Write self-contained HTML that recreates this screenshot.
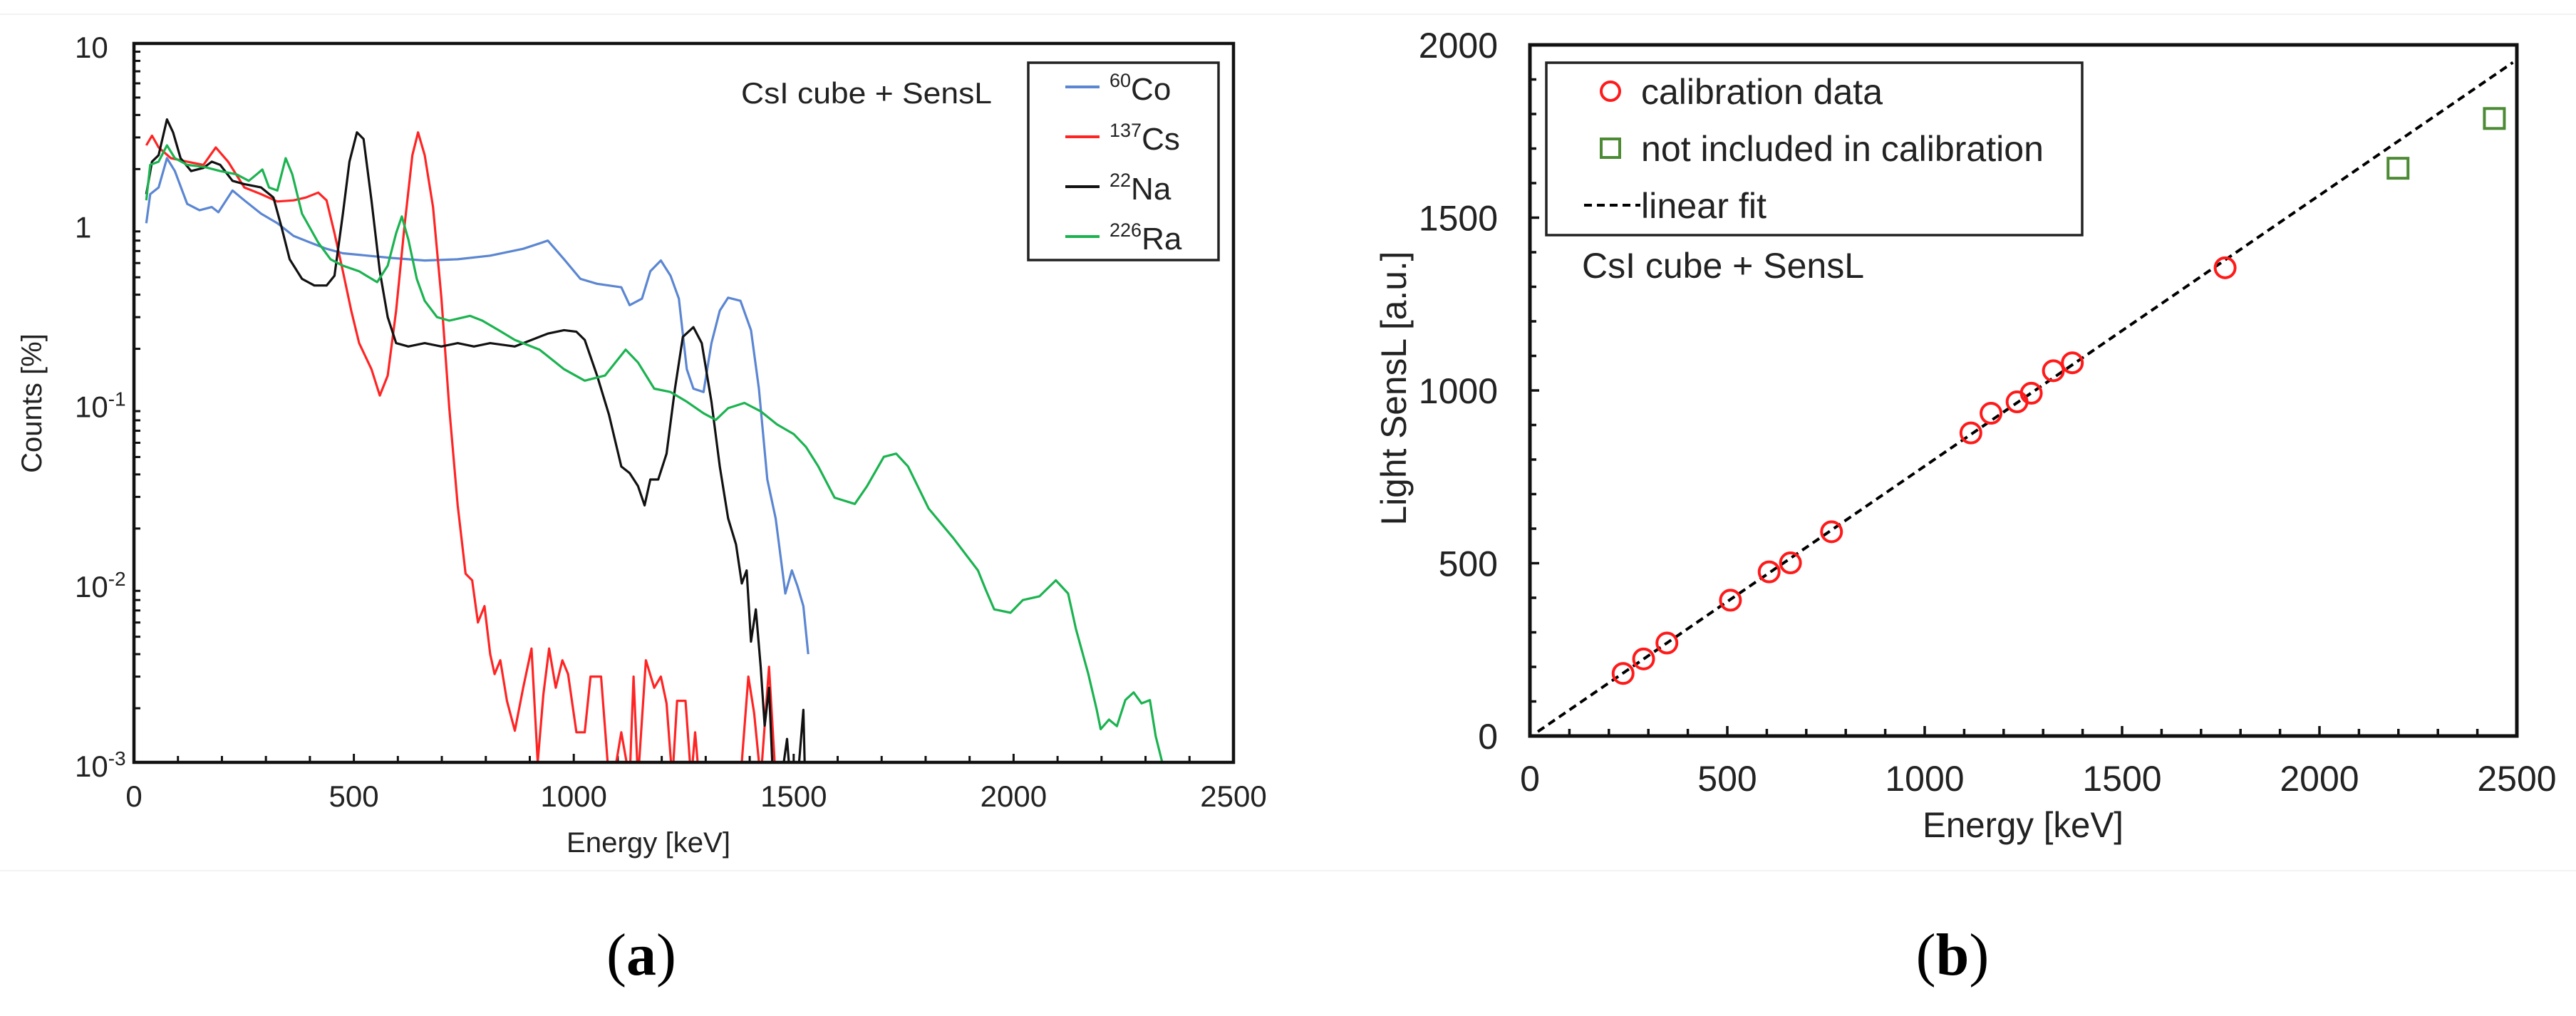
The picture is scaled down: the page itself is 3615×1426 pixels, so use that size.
<!DOCTYPE html>
<html><head><meta charset="utf-8">
<style>
html,body{margin:0;padding:0;background:#fff;}
svg{display:block;font-family:"Liberation Sans",sans-serif;}
</style></head>
<body>
<svg id="fig" width="3615" height="1426" viewBox="0 0 3615 1426" xmlns="http://www.w3.org/2000/svg">
<defs>
<clipPath id="clipA"><rect x="188" y="61" width="1543" height="1009"/></clipPath>
<clipPath id="clipB"><rect x="2147" y="63" width="1385" height="970"/></clipPath>
</defs>
<line x1="0" y1="20" x2="3615" y2="20" stroke="#f3f3f3" stroke-width="2"/>
<line x1="0" y1="1222" x2="3615" y2="1222" stroke="#f3f3f3" stroke-width="2"/>
<g id="panelA"></g>
<g id="panelB"></g>
</svg>
<script>
// ---------- Panel (a) data ----------
const coE = [28,37,56,75,93,121,149,177,192,224,251,289,326,363,401,438,475,531,587,661,736,810,885,941,978,1015,1053,1108,1127,1155,1174,1198,1220,1239,1257,1272,1295,1313,1332,1351,1379,1403,1421,1440,1459,1481,1496,1509,1522,1533];
const coV = [1,1.45,1.58,2.3,1.95,1.28,1.18,1.23,1.15,1.52,1.34,1.13,1.0,0.85,0.78,0.72,0.68,0.66,0.64,0.62,0.63,0.66,0.72,0.80,0.63,0.49,0.46,0.44,0.35,0.38,0.54,0.62,0.51,0.38,0.154,0.12,0.115,0.215,0.326,0.385,0.37,0.254,0.12,0.0375,0.0228,0.0087,0.0117,0.0095,0.0074,0.004];
const csE = [28,41,56,84,121,158,186,214,251,289,326,363,391,419,438,456,475,494,512,540,559,577,596,615,633,646,661,680,699,717,736,754,769,782,797,810,820,833,848,866,885,904,918,931,944,959,974,987,1006,1025,1038,1062,1080,1090,1108,1127,1136,1146,1164,1183,1198,1211,1224,1235,1254,1267,1276,1285,1379,1397,1410,1425,1444,1459];
const csV = [2.71,3.07,2.64,2.30,2.20,2.11,2.64,2.20,1.58,1.45,1.32,1.34,1.39,1.48,1.34,0.88,0.54,0.326,0.215,0.154,0.110,0.142,0.326,0.96,2.39,3.2,2.39,1.23,0.385,0.0935,0.0269,0.0112,0.0103,0.006,0.0074,0.004,0.0031,0.0037,0.0022,0.0015,0.0026,0.0043,0.001,0.0024,0.0043,0.0026,0.0037,0.0031,0.00147,0.00147,0.003,0.003,0.0008,0.0008,0.00147,0.0008,0.003,0.0008,0.0037,0.0026,0.003,0.00213,0.0008,0.0022,0.0022,0.0008,0.00147,0.0008,0.0008,0.003,0.00188,0.0008,0.0034,0.0008];
const naE = [28,41,56,75,89,106,130,158,177,196,224,251,289,317,335,354,382,410,438,456,475,490,507,522,540,559,577,596,624,661,699,736,773,810,866,904,941,978,1006,1025,1053,1080,1094,1108,1127,1146,1161,1174,1192,1211,1230,1248,1272,1291,1313,1332,1351,1369,1382,1393,1403,1414,1425,1434,1444,1453,1472,1485,1492,1509,1522,1526];
const naV = [1.45,2.2,2.39,3.78,3.2,2.3,1.95,2.03,2.2,2.11,1.72,1.65,1.58,1.39,0.96,0.63,0.49,0.45,0.45,0.51,1.13,2.2,3.2,2.94,1.34,0.54,0.30,0.215,0.206,0.215,0.206,0.215,0.206,0.215,0.206,0.224,0.243,0.254,0.249,0.224,0.142,0.086,0.0618,0.0443,0.0407,0.0345,0.0269,0.0375,0.0375,0.0522,0.12,0.233,0.264,0.215,0.1016,0.0443,0.0228,0.0163,0.0099,0.0117,0.0047,0.0071,0.0034,0.0016,0.0026,0.0008,0.0008,0.00135,0.0008,0.0008,0.00196,0.0008];
const raE = [28,37,56,75,93,121,158,196,233,261,279,292,307,326,345,360,382,419,447,475,512,553,577,596,609,624,643,661,689,717,764,792,829,866,922,978,1025,1071,1118,1146,1183,1220,1257,1295,1323,1351,1388,1425,1462,1500,1528,1556,1593,1639,1667,1705,1733,1760,1807,1863,1919,1937,1956,1993,2021,2059,2096,2124,2142,2170,2189,2198,2217,2235,2254,2273,2291,2310,2323,2338];
const raV = [1.34,2.11,2.2,2.71,2.3,2.11,2.06,1.95,1.87,1.72,1.87,1.99,1.58,1.52,2.3,1.87,1.13,0.78,0.63,0.58,0.54,0.47,0.58,0.88,1.09,0.81,0.49,0.37,0.30,0.287,0.305,0.287,0.254,0.224,0.198,0.154,0.133,0.142,0.198,0.168,0.12,0.115,0.1016,0.0875,0.0805,0.0935,0.1,0.0898,0.076,0.0671,0.0569,0.0443,0.0297,0.0274,0.0345,0.0501,0.0522,0.0443,0.0258,0.0177,0.0117,0.0091,0.0071,0.0068,0.0080,0.0084,0.0103,0.0087,0.0055,0.0031,0.00196,0.00153,0.00173,0.00159,0.00222,0.00245,0.00213,0.00222,0.0014,0.001];
const aXTicks = [0,500,1000,1500,2000,2500];
const aYExp = [1,0,-1,-2,-3];
const legendNames = ["Co","Cs","Na","Ra"];
const legendMass = ["60","137","22","226"];
const legendColors = ["#5b86d2","#ff2424","#111111","#1bb350"];

// ---------- Panel (b) data ----------
const calE = [236,288,347,508,606,660,764,1117,1168,1234,1270,1326,1374,1761];
const calL = [181,223,269,393,475,501,591,877,934,967,992,1057,1080,1355];
const excE = [2199,2443];
const excL = [1643,1787];
const fitSlope = [0.784];
const fitIntercept = [-3];
const fitRange = [20,2490];
const bXTicks = [0,500,1000,1500,2000,2500];
const bYTicks = [0,500,1000,1500,2000];

const NS = "http://www.w3.org/2000/svg";
function mk(tag, attrs, parent){ const e=document.createElementNS(NS,tag); for(const k in attrs) e.setAttribute(k,attrs[k]); if(parent) parent.appendChild(e); return e; }

// ---------- Panel A ----------
const A = document.getElementById('panelA');
const aL=188,aR=1731,aT=61,aB=1070;
const ax = e => aL + e/2500*(aR-aL);
const ay = v => aT + (1-Math.log10(v))*(aB-aT)/4;

for(let e=100;e<2500;e+=100){
  const t=mk('line',{x1:ax(e),x2:ax(e),y1:aB,y2:aB-(e%500===0?12:9),stroke:'#111','stroke-width':3},A);
  
  
}
for(let d=-3;d<1;d++){
  for(let m=2;m<=9;m++){
    const v=m*Math.pow(10,d);
    const t=mk('line',{x1:aL,x2:aL+9,y1:ay(v),y2:ay(v),stroke:'#111','stroke-width':3},A);
    
    
  }
}
const series=[[coE,coV,'co60-line'],[csE,csV,'cs137-line'],[naE,naV,'na22-line'],[raE,raV,'ra226-line']];
const gS=mk('g',{'clip-path':'url(#clipA)'},A);


series.forEach((s,i)=>{
  const pts=s[0].map((e,j)=>ax(e).toFixed(1)+','+ay(s[1][j]).toFixed(1)).join(' ');
  const p=mk('polyline',{points:pts,fill:'none',stroke:legendColors[i],'stroke-width':3.2,'stroke-linejoin':'round'},gS);
  
  
});
const fA=mk('rect',{x:aL,y:aT,width:aR-aL,height:aB-aT,fill:'none',stroke:'#111','stroke-width':4.5},A);


aXTicks.forEach(e=>{
  const t=mk('text',{x:ax(e),y:1132,'font-size':42,'text-anchor':'middle',fill:'#222'},A);
  t.textContent=e;
  
  
});
aYExp.forEach(d=>{
  const t=mk('text',{x:105,y:ay(Math.pow(10,d))+20,'font-size':42,fill:'#222'},A);
  
  
  if(d===1) t.textContent='10';
  else if(d===0) t.textContent='1';
  else { t.textContent='10'; const s=mk('tspan',{'font-size':28,dy:-16},t); s.textContent=String(d); }
});
let tt=mk('text',{x:910,y:1196,'font-size':40,'text-anchor':'middle',fill:'#222',textLength:230,lengthAdjust:'spacingAndGlyphs'},A);
tt.textContent='Energy [keV]';


tt=mk('text',{x:58,y:566,'font-size':40,'text-anchor':'middle',fill:'#222',transform:'rotate(-90 58 566)'},A);
tt.textContent='Counts [%]';


tt=mk('text',{x:1040,y:145,'font-size':42,fill:'#222',textLength:352,lengthAdjust:'spacingAndGlyphs'},A);
tt.textContent='CsI cube + SensL';


const lg=mk('g',{},A);


const lb=mk('rect',{x:1443,y:88,width:267,height:277,fill:'#fff',stroke:'#222','stroke-width':3.5},lg);


legendNames.forEach((n,i)=>{
  const y=122+i*70;
  const l=mk('line',{x1:1495,x2:1543,y1:y,y2:y,stroke:legendColors[i],'stroke-width':4},lg);
  
  
  const t=mk('text',{x:1557,y:y+18,'font-size':44,fill:'#222'},lg);
  
  
  const s=mk('tspan',{'font-size':27,dy:-18},t); s.textContent=legendMass[i];
  const m=mk('tspan',{dy:18},t); m.textContent=n;
});
tt=mk('text',{x:900,y:1368,'font-size':84,'text-anchor':'middle',fill:'#000','font-family':'Liberation Serif, serif'},A);


tt.innerHTML='(<tspan font-weight="bold">a</tspan>)';

// ---------- Panel B ----------
const B=document.getElementById('panelB');
const bL=2147,bR=3532,bT=63,bB=1033;
const bx=e=>bL+e/2500*(bR-bL);
const by=v=>bB-v/2000*(bB-bT);
for(let e=100;e<2500;e+=100){
  const t=mk('line',{x1:bx(e),x2:bx(e),y1:bB,y2:bB-(e%500===0?14:10),stroke:'#111','stroke-width':3.5},B);
  
  
}
for(let v=100;v<2000;v+=100){
  const t=mk('line',{x1:bL,x2:bL+(v%500===0?13:9),y1:by(v),y2:by(v),stroke:'#111','stroke-width':3.5},B);
  
  
}
const gB=mk('g',{'clip-path':'url(#clipB)'},B);


const fit=mk('line',{x1:bx(fitRange[0]),y1:by(fitSlope[0]*fitRange[0]+fitIntercept[0]),x2:bx(fitRange[1]),y2:by(fitSlope[0]*fitRange[1]+fitIntercept[0]),stroke:'#000','stroke-width':4,'stroke-dasharray':'11 7'},gB);


calE.forEach((e,i)=>{
  const c=mk('circle',{cx:bx(e),cy:by(calL[i]),r:14,fill:'none',stroke:'#ff1a1a','stroke-width':4},gB);
  
  
});
excE.forEach((e,i)=>{
  const r=mk('rect',{x:bx(e)-14,y:by(excL[i])-14,width:28,height:28,fill:'none',stroke:'#4c8a34','stroke-width':4},gB);
  
  
});
const fB=mk('rect',{x:bL,y:bT,width:bR-bL,height:bB-bT,fill:'none',stroke:'#111','stroke-width':5},B);


bXTicks.forEach(e=>{
  const t=mk('text',{x:bx(e),y:1110,'font-size':50,'text-anchor':'middle',fill:'#222'},B);
  t.textContent=e;
  
  
});
bYTicks.forEach(v=>{
  const t=mk('text',{x:2102,y:by(v)+18,'font-size':50,'text-anchor':'end',fill:'#222'},B);
  t.textContent=v;
  
  
});
tt=mk('text',{x:2839,y:1175,'font-size':50,'text-anchor':'middle',fill:'#222',textLength:282,lengthAdjust:'spacingAndGlyphs'},B);
tt.textContent='Energy [keV]';


tt=mk('text',{x:1973,y:545,'font-size':50,'text-anchor':'middle',fill:'#222',transform:'rotate(-90 1973 545)',textLength:385,lengthAdjust:'spacingAndGlyphs'},B);
tt.textContent='Light SensL [a.u.]';


tt=mk('text',{x:2220,y:390,'font-size':50,fill:'#222',textLength:396,lengthAdjust:'spacingAndGlyphs'},B);
tt.textContent='CsI cube + SensL';


const lg2=mk('g',{},B);


const lb2=mk('rect',{x:2170,y:88,width:752,height:242,fill:'#fff',stroke:'#222','stroke-width':3.5},lg2);


let m=mk('circle',{cx:2260,cy:128,r:13,fill:'none',stroke:'#ff1a1a','stroke-width':4},lg2);


m=mk('rect',{x:2247,y:195,width:26,height:26,fill:'none',stroke:'#4c8a34','stroke-width':4},lg2);


m=mk('line',{x1:2223,x2:2302,y1:288,y2:288,stroke:'#000','stroke-width':4,'stroke-dasharray':'11 7'},lg2);


[['calibration data',146,339,'legend-label-calibration'],['not included in calibration',226,565,'legend-label-excluded'],['linear fit',306,176,'legend-label-fit']].forEach(r=>{
  const t=mk('text',{x:2303,y:r[1],'font-size':50,fill:'#222',textLength:r[2],lengthAdjust:'spacingAndGlyphs'},lg2);
  t.textContent=r[0];
  
  
});
tt=mk('text',{x:2740,y:1368,'font-size':84,'text-anchor':'middle',fill:'#000','font-family':'Liberation Serif, serif'},B);


tt.innerHTML='(<tspan font-weight="bold">b</tspan>)';
</script>
</body></html>
